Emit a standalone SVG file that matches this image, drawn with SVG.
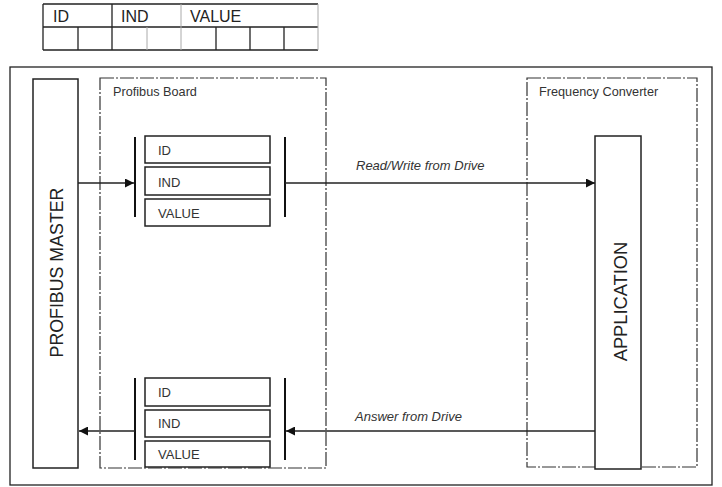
<svg xmlns="http://www.w3.org/2000/svg" width="722" height="487" viewBox="0 0 722 487">
<defs>
<style>
.ln{stroke:#222;stroke-width:1.3;fill:none}
.box{stroke:#222;stroke-width:1.5;fill:#fff}
.dash{stroke:#333;stroke-width:1.2;fill:none;stroke-dasharray:14 2 2 2}
.bar{stroke:#111;stroke-width:2;fill:none}
.t{font-family:"Liberation Sans",Arial,sans-serif;fill:#222}
.s{font-size:12.7px;fill:#333}
.f{font-size:13px;fill:#333}
.i{font-size:13px;font-style:italic;fill:#333}
.big{font-size:17.8px}
.tbl{font-size:16px}
.g{stroke:#aaa;stroke-width:1}
</style>
<marker id="ah" viewBox="0 0 10 10" refX="10" refY="5" markerWidth="9" markerHeight="9" markerUnits="userSpaceOnUse" orient="auto">
<path d="M0,0 L10,5 L0,10 z" fill="#111"/>
</marker>
</defs>
<rect width="722" height="487" fill="#fff"/>
<g id="table">
<path class="ln" d="M43,4 H318 M43,27 H318 M43,50 H318 M43,4 V50 M112,4 V50 M78,27 V50 M216,27 V50 M250,27 V50 M284,27 V50"/>
<path class="g" d="M181,4 V50 M147,27 V50 M318,4 V50"/>
<text class="t tbl" x="53" y="22">ID</text>
<text class="t tbl" x="121" y="22">IND</text>
<text class="t tbl" x="190" y="22">VALUE</text>
</g>
<g id="frame"><rect x="10" y="67" width="702" height="418" class="ln" stroke-width="1.5"/></g>
<g id="master">
<rect class="box" x="33" y="79" width="45" height="389"/>
<text class="t big" transform="translate(63,272.5) rotate(-90)" text-anchor="middle">PROFIBUS MASTER</text>
</g>
<g id="board">
<rect class="dash" x="100" y="78" width="226" height="390"/>
<text class="t s" x="113" y="96">Profibus Board</text>
</g>
<g id="converter">
<rect class="dash" x="527" y="78" width="170" height="389"/>
<text class="t s" x="539" y="96">Frequency Converter</text>
</g>
<g id="application">
<rect class="box" x="595" y="136" width="46" height="333"/>
<text class="t big" transform="translate(627,301.5) rotate(-90)" text-anchor="middle" style="font-size:18.3px">APPLICATION</text>
</g>
<g id="request">
<line class="bar" x1="135" y1="137" x2="135" y2="217"/>
<line class="bar" x1="285" y1="137" x2="285" y2="217"/>
<rect class="box" x="145" y="136" width="125" height="27"/>
<rect class="box" x="145" y="167" width="125" height="28"/>
<rect class="box" x="145" y="199" width="125" height="27"/>
<text class="t f" x="158" y="155">ID</text>
<text class="t f" x="158" y="187">IND</text>
<text class="t f" x="158" y="218">VALUE</text>
</g>
<g id="response">
<line class="bar" x1="135" y1="378" x2="135" y2="460"/>
<line class="bar" x1="285" y1="378" x2="285" y2="460"/>
<rect class="box" x="145" y="378" width="125" height="28"/>
<rect class="box" x="145" y="410" width="125" height="27"/>
<rect class="box" x="145" y="441" width="125" height="26"/>
<text class="t f" x="158" y="397">ID</text>
<text class="t f" x="158" y="428">IND</text>
<text class="t f" x="158" y="459">VALUE</text>
</g>
<g id="connectors">
<line class="ln" x1="78" y1="183" x2="134" y2="183" marker-end="url(#ah)"/>
<line class="ln" x1="285" y1="183" x2="595" y2="183" marker-end="url(#ah)"/>
<text class="t i" x="356" y="170">Read/Write from Drive</text>
<line class="ln" x1="595" y1="431" x2="286" y2="431" marker-end="url(#ah)"/>
<line class="ln" x1="135" y1="431" x2="79" y2="431" marker-end="url(#ah)"/>
<text class="t i" x="355" y="421">Answer from Drive</text>
</g>
</svg>
